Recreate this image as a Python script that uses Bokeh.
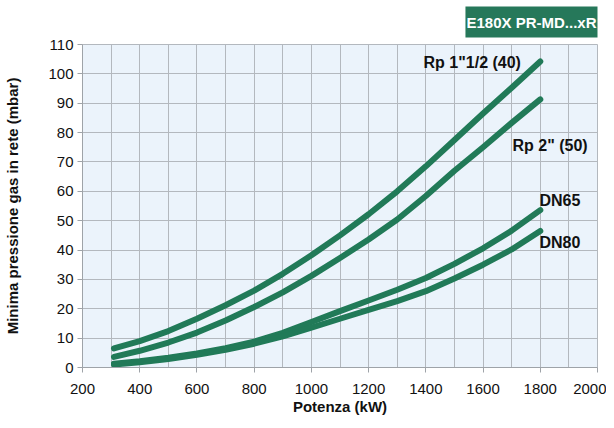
from bokeh.plotting import figure
from bokeh.models import Label, SingleIntervalTicker, Range1d
from bokeh.embed import file_html
from bokeh.resources import INLINE

# ---- data ----
power_kw = [310, 400, 500, 600, 700, 800, 900, 1000, 1100, 1200, 1300, 1400, 1500, 1600, 1700, 1800]
rp_1_1_2 = [6.5, 9.0, 12.4, 16.6, 21.2, 26.2, 31.9, 38.2, 45.0, 52.2, 60.0, 68.5, 77.5, 86.5, 95.3, 104.2]
rp_2 = [3.6, 5.7, 8.5, 11.9, 16.0, 20.6, 25.6, 31.2, 37.3, 43.6, 50.4, 58.4, 67.0, 75.0, 83.3, 91.3]
dn65 = [1.3, 2.1, 3.3, 4.8, 6.6, 8.8, 11.8, 15.5, 19.2, 22.8, 26.5, 30.5, 35.3, 40.6, 46.6, 53.6]
dn80 = [1.0, 1.8, 2.9, 4.3, 6.0, 8.1, 10.6, 13.6, 16.6, 19.6, 22.6, 26.0, 30.3, 35.0, 40.2, 46.5]

series_names = ['Rp 1"1/2 (40)', 'Rp 2" (50)', "DN65", "DN80"]
series_values = [rp_1_1_2, rp_2, dn65, dn80]
label_pos = [(1392, 104.0), (1703, 75.6), (1797, 56.9), (1797, 42.6)]

title_text = "E180X PR-MD...xR"
x_title = "Potenza (kW)"
y_title = "Minima pressione gas in rete (mbar)"

GREEN = "#217a58"
GRID = "#b3b8be"
AXIS = "#9ea3a8"
FONT = "Liberation Sans"

p = figure(width=606, height=420, output_backend="svg", toolbar_location=None,
           x_range=Range1d(200, 2000), y_range=Range1d(0, 110),
           min_border_left=82, min_border_right=9, min_border_top=44, min_border_bottom=53)

p.background_fill_color = "#ebf3fb"
p.border_fill_color = "white"
p.outline_line_color = GRID

for vals in series_values:
    p.line(power_kw, vals, line_color=GREEN, line_width=6, line_cap="round", line_join="round")

# axes
p.xaxis.ticker = SingleIntervalTicker(interval=200, num_minor_ticks=2)
p.yaxis.ticker = SingleIntervalTicker(interval=10, num_minor_ticks=0)
for ax in (p.xaxis[0], p.yaxis[0]):
    ax.axis_line_color = AXIS
    ax.major_tick_line_color = AXIS
    ax.major_tick_out = 5
    ax.major_tick_in = 0
    ax.minor_tick_out = 0
    ax.minor_tick_in = 0
    ax.major_label_text_font = FONT
    ax.major_label_text_font_size = "15px"
    ax.major_label_text_color = "#111111"
    ax.axis_label_text_font = FONT
    ax.axis_label_text_font_size = "15px"
    ax.axis_label_text_font_style = "bold"
    ax.axis_label_text_color = "#111111"
p.xaxis.major_label_standoff = 11
p.yaxis.major_label_standoff = 4
p.xaxis.axis_label = x_title
p.yaxis.axis_label = y_title
p.xaxis.axis_label_standoff = 1
p.yaxis.axis_label_standoff = 24

p.xgrid.grid_line_color = GRID
p.xgrid.minor_grid_line_color = GRID
p.ygrid.grid_line_color = GRID

# curve labels
for name, (lx, ly) in zip(series_names, label_pos):
    p.add_layout(Label(x=lx, y=ly, text=name, text_font=FONT, text_font_size="16px",
                       text_font_style="bold", text_align="left", text_baseline="middle",
                       text_color="#111111"))

# header box
p.title.text = title_text
p.title.align = "right"
p.title.vertical_align = "top"
p.title.text_font = FONT
p.title.text_font_size = "15px"
p.title.text_font_style = "bold"
p.title.text_color = "white"
p.title.background_fill_color = "#26785a"
p.title.padding = (1, 7)
p.title.standoff = 10

open("out.html", "w").write(file_html(p, INLINE))
